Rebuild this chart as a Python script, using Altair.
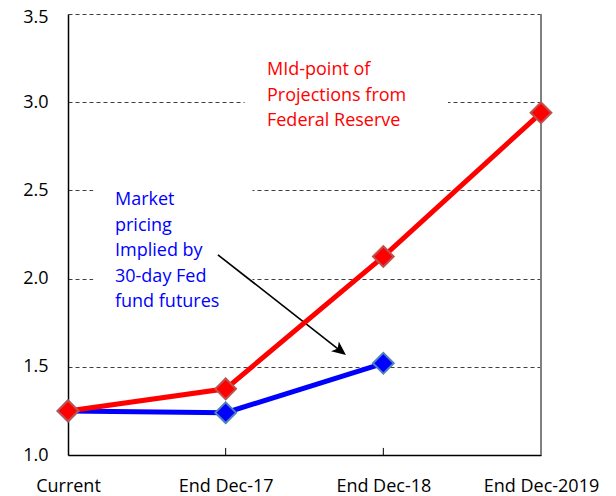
import altair as alt
import pandas as pd

categories = ["Current", "End Dec-17", "End Dec-18", "End Dec-2019"]
fed_values = [1.25, 1.375, 2.125, 2.94]
market_values = [1.25, 1.24, 1.52]
y_ticks = [1.0, 1.5, 2.0, 2.5, 3.0, 3.5]

FONT = "Open Sans"

rows = []
for i, v in enumerate(market_values):
    rows.append({"series": "Market", "idx": i, "value": v})
for i, v in enumerate(fed_values):
    rows.append({"series": "Fed", "idx": i, "value": v})
df = pd.DataFrame(rows)

label_expr = "[" + ",".join(f"'{c}'" for c in categories) + "][datum.value]"

x_scale = alt.Scale(domain=[0, 3], nice=False, zero=False)
y_scale = alt.Scale(domain=[1.0, 3.5], nice=False, zero=False)

x_enc = alt.X("idx:Q", scale=x_scale,
              axis=alt.Axis(values=[0, 1, 2, 3], labelExpr=label_expr, title=None,
                            grid=False, ticks=False, domainColor="#000000", domainWidth=1.5,
                            labelFont=FONT, labelFontSize=18, labelColor="#000000",
                            labelPadding=22, labelBaseline="top", labelFlush=False,
                            labelOverlap=False, labelBound=False))
y_enc = alt.Y("value:Q", scale=y_scale,
              axis=alt.Axis(values=y_ticks, format=".1f", title=None,
                            grid=True, gridDash=[4, 3], gridColor="#404040", gridWidth=1,
                            ticks=False, domainColor="#000000", domainWidth=1.5,
                            labelFont=FONT, labelFontSize=18, labelColor="#000000",
                            labelPadding=20, labelFlush=False, labelOverlap=False,
                            labelOffset={"condition": {"test": "datum.value == 3.5", "value": 3},
                                         "value": 0}))

# white backgrounds behind annotation text (interrupt gridlines)
boxes = pd.DataFrame([
    {"x": 0.16, "x2": 1.17, "y": 1.85, "y2": 2.6},
    {"x": 1.12, "x2": 2.41, "y": 2.82, "y2": 3.22},
])
box_layer = alt.Chart(boxes).mark_rect(color="white").encode(
    x=alt.X("x:Q", scale=x_scale), x2="x2:Q",
    y=alt.Y("y:Q", scale=y_scale), y2="y2:Q")

mkt = df[df.series == "Market"]
fed = df[df.series == "Fed"]

market_line = alt.Chart(mkt).mark_line(strokeWidth=5, color="#0000FF").encode(x=x_enc, y=y_enc)
fed_line = alt.Chart(fed).mark_line(strokeWidth=5, color="#FF0000").encode(x=x_enc, y=y_enc)
market_pts = alt.Chart(mkt).mark_point(
    shape="diamond", size=430, filled=True, fill="#0000FF", stroke="#4F81BD",
    strokeWidth=2, opacity=1).encode(x=x_enc, y=y_enc)
fed_pts = alt.Chart(fed).mark_point(
    shape="diamond", size=430, filled=True, fill="#FF0000", stroke="#C0504D",
    strokeWidth=2, opacity=1).encode(x=x_enc, y=y_enc)

# right border
right_border = alt.Chart(pd.DataFrame({"x": [3], "y": [1.0], "y2": [3.5]})).mark_rule(
    color="#808080", strokeWidth=2).encode(
    x=alt.X("x:Q", scale=x_scale), y=alt.Y("y:Q", scale=y_scale), y2="y2:Q")

# inner x ticks
tick_df = pd.DataFrame({"x": [1, 2], "y": [1.0, 1.0], "y2": [1.04, 1.04]})
ticks = alt.Chart(tick_df).mark_rule(color="#000000", strokeWidth=1).encode(
    x=alt.X("x:Q", scale=x_scale), y=alt.Y("y:Q", scale=y_scale), y2="y2:Q")

# annotation texts
market_text = alt.Chart(pd.DataFrame({"x": [0.298], "y": [2.416]})).mark_text(
    text=["Market", "pricing", "Implied by", "30-day Fed", "fund futures"],
    align="left", baseline="alphabetic", lineHeight=25.5, font=FONT, fontSize=18,
    color="#0000FF").encode(x=alt.X("x:Q", scale=x_scale), y=alt.Y("y:Q", scale=y_scale))
fed_text = alt.Chart(pd.DataFrame({"x": [1.262], "y": [3.152]})).mark_text(
    text=["MId-point of", "Projections from", "Federal Reserve"],
    align="left", baseline="alphabetic", lineHeight=25.5, font=FONT, fontSize=18,
    color="#FF0000").encode(x=alt.X("x:Q", scale=x_scale), y=alt.Y("y:Q", scale=y_scale))

# arrow
arrow_df = pd.DataFrame({"x": [0.951], "y": [2.135], "x2": [1.72], "y2": [1.596]})
arrow_line = alt.Chart(arrow_df).mark_rule(color="#000000", strokeWidth=1.6).encode(
    x=alt.X("x:Q", scale=x_scale), y=alt.Y("y:Q", scale=y_scale), x2="x2:Q", y2="y2:Q")
head_df = pd.DataFrame({"x": [1.763], "y": [1.567]})
arrow_head = alt.Chart(head_df).mark_point(
    shape="M0,0L0.45,1L0,0.75L-0.45,1Z", size=784, filled=True, fill="#000000",
    strokeWidth=0, opacity=1, angle=128).encode(
    x=alt.X("x:Q", scale=x_scale), y=alt.Y("y:Q", scale=y_scale))

chart = alt.layer(
    box_layer, right_border, ticks, market_text, fed_text, arrow_line, arrow_head,
    market_line, fed_line, market_pts, fed_pts
).properties(
    width=473, height=441,
    padding={"left": 60, "top": 6, "right": 66, "bottom": 60},
    autosize=alt.AutoSizeParams(type="none"),
    background="white",
).configure_view(stroke=None)

chart.save("out.html", embed_options={"renderer": "svg", "actions": False})
